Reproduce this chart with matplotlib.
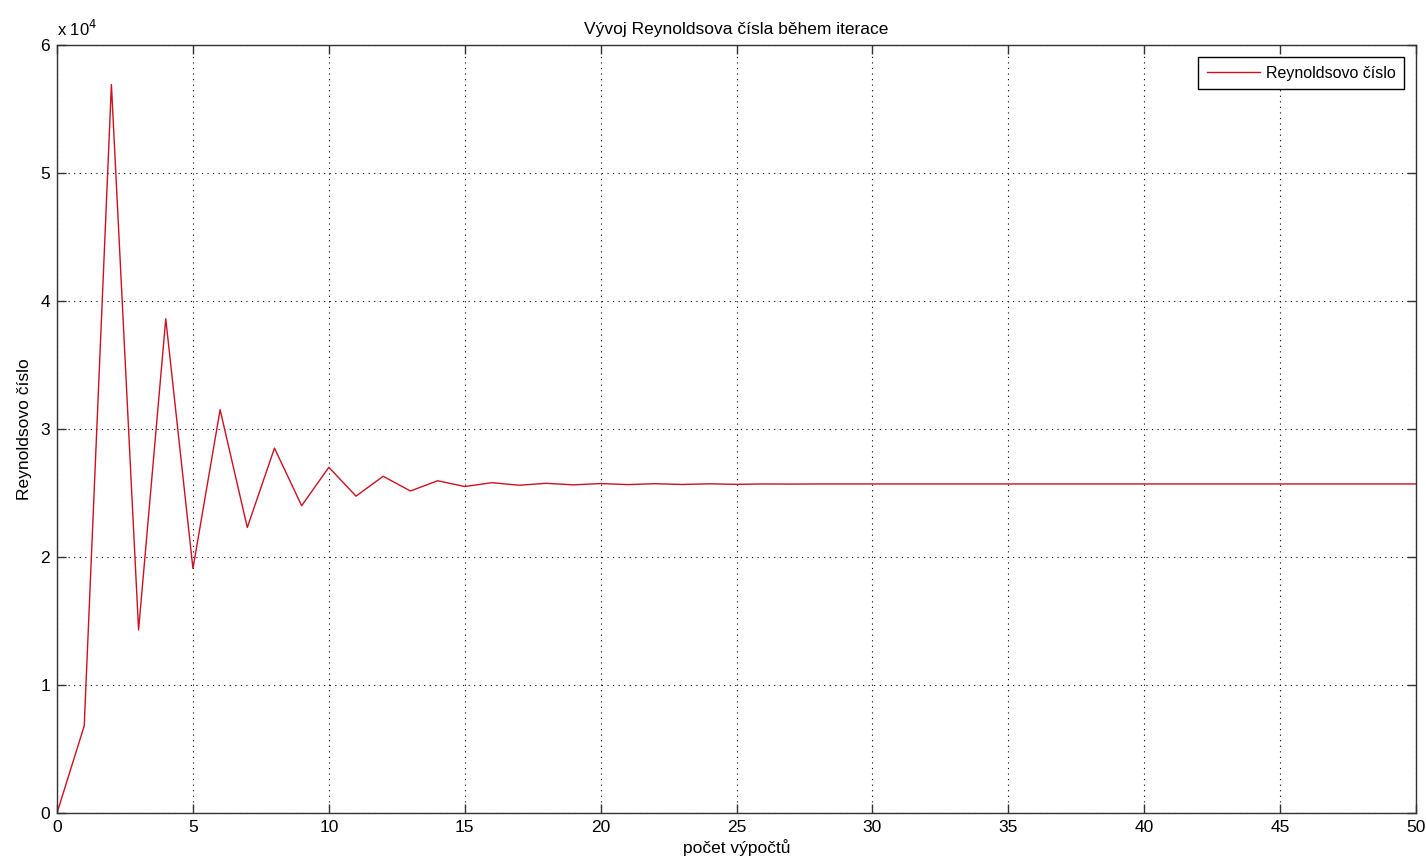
import numpy as np
import matplotlib.pyplot as plt

plt.rcParams['font.family'] = ['Liberation Sans', 'DejaVu Sans']

# pocet vypoctu (iterace) a Reynoldsovo cislo
iterace = list(range(0, 51))
reynolds = [0, 6800, 56900, 14300, 38600, 19100, 31500, 22300, 28500, 24000,
            27000, 24750, 26300, 25150, 25950, 25500, 25800, 25600, 25750, 25630,
            25730, 25650, 25720, 25660, 25710, 25670, 25700, 25690, 25700, 25700,
            25700, 25700, 25700, 25700, 25700, 25700, 25700, 25700, 25700, 25700,
            25700, 25700, 25700, 25700, 25700, 25700, 25700, 25700, 25700, 25700,
            25700]

xticks = [0, 5, 10, 15, 20, 25, 30, 35, 40, 45, 50]
yticks = [0, 10000, 20000, 30000, 40000, 50000, 60000]
ytick_labels = ['0', '1', '2', '3', '4', '5', '6']

fig = plt.figure(figsize=(14.26, 8.63), dpi=100)
ax = fig.add_axes([0.040, 0.058, 0.953, 0.890])

ax.plot(iterace, reynolds, color='#cc1020', lw=1.0, label='Reynoldsovo číslo')

ax.set_xlim(0, 50)
ax.set_ylim(0, 60000)
ax.set_xticks(xticks)
ax.set_yticks(yticks)
ax.set_yticklabels(ytick_labels)
ax.tick_params(direction='in', top=True, right=True, labelsize=12.5, length=6.5,
               width=1.0, pad=5, color='#333333')
ax.grid(True, color='black', linestyle=(0, (1, 4)), linewidth=0.8)
for s in ax.spines.values():
    s.set_linewidth(1.0)
    s.set_color('#333333')

ax.text(0.0, 1.008, r'x 10$^{4}$', transform=ax.transAxes, fontsize=12,
        ha='left', va='bottom')

ax.set_title('Vývoj Reynoldsova čísla během iterace', fontsize=12.5, pad=8)
ax.set_xlabel('počet výpočtů', fontsize=12.5, labelpad=3)
ax.set_ylabel('Reynoldsovo číslo', fontsize=12.5, labelpad=6)

leg = ax.legend(loc='upper right', fontsize=11.5, fancybox=False, framealpha=1,
                edgecolor='black', borderaxespad=0.75, handlelength=3.3,
                handletextpad=0.35, borderpad=0.55)
leg.get_frame().set_linewidth(1.0)

fig.savefig('out.png', dpi=100)
